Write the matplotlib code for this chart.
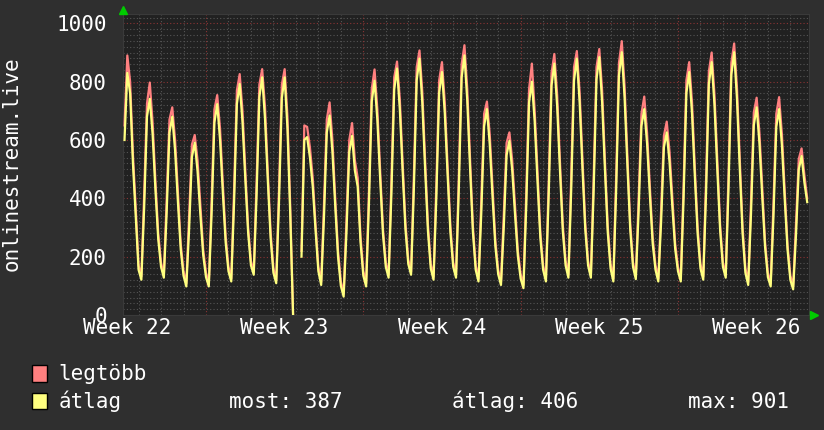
import numpy as np
import matplotlib
matplotlib.use("Agg")
import matplotlib.pyplot as plt
from matplotlib.patches import Rectangle

nan = float("nan")

# one row per day (day -1 .. 29), samples every 3 hours (00, 03, ..., 21)
days = list(range(-1, 30))
hours = [0, 3, 6, 9, 12, 15, 18, 21]

avg_rows = [
    [nan, nan, nan, 600, 830, 760, 520, 340],
    [155, 121, 370, 680, 741, 620, 430, 260],
    [165, 128, 350, 625, 680, 564, 389, 226],
    [135, 98, 295, 542, 591, 492, 344, 206],
    [130, 98, 348, 660, 723, 601, 419, 249],
    [150, 115, 386, 724, 792, 661, 465, 282],
    [170, 138, 409, 747, 815, 674, 462, 264],
    [145, 109, 391, 744, 815, 640, 340, 0],
    [nan, nan, 200, 600, 610, 540, 440, 290],
    [150, 103, 335, 626, 684, 560, 374, 200],
    [100, 63, 283, 559, 614, 495, 440, 250],
    [135, 98, 380, 732, 803, 668, 465, 277],
    [165, 128, 415, 773, 845, 704, 492, 294],
    [175, 138, 434, 805, 879, 727, 500, 288],
    [160, 121, 406, 762, 833, 692, 481, 283],
    [165, 128, 433, 814, 890, 735, 503, 286],
    [155, 115, 351, 647, 706, 585, 405, 236],
    [140, 103, 301, 548, 597, 496, 345, 203],
    [125, 92, 375, 729, 800, 663, 458, 266],
    [155, 115, 414, 787, 862, 715, 495, 289],
    [170, 128, 428, 804, 879, 729, 504, 293],
    [170, 128, 430, 808, 884, 730, 500, 284],
    [160, 115, 429, 822, 901, 745, 512, 294],
    [165, 123, 356, 648, 706, 588, 411, 245],
    [155, 115, 319, 575, 626, 524, 371, 227],
    [150, 115, 402, 761, 833, 691, 477, 278],
    [160, 121, 419, 792, 867, 719, 498, 291],
    [165, 128, 437, 824, 901, 741, 502, 279],
    [145, 103, 347, 651, 712, 589, 405, 233],
    [130, 98, 341, 645, 706, 582, 397, 224],
    [120, 88, 271, 499, 545, 454, 387, nan],
]

max_rows = [
    [nan, nan, nan, 650, 890, 800, 550, 365],
    [170, 132, 415, 725, 797, 660, 460, 280],
    [180, 138, 395, 670, 712, 600, 420, 245],
    [150, 108, 340, 585, 617, 530, 375, 225],
    [145, 108, 390, 705, 754, 640, 450, 270],
    [165, 125, 430, 770, 826, 700, 495, 300],
    [185, 148, 455, 790, 843, 715, 490, 285],
    [160, 119, 435, 790, 843, 680, 370, 0],
    [nan, nan, 220, 650, 645, 575, 470, 310],
    [165, 113, 380, 670, 729, 600, 400, 220],
    [115, 73, 325, 600, 658, 530, 470, 270],
    [150, 108, 425, 775, 842, 705, 495, 295],
    [180, 138, 460, 815, 869, 740, 520, 315],
    [190, 148, 480, 850, 907, 765, 530, 310],
    [175, 131, 450, 805, 867, 730, 510, 305],
    [180, 138, 480, 860, 925, 775, 535, 305],
    [170, 125, 395, 690, 732, 620, 435, 255],
    [155, 113, 345, 590, 626, 530, 375, 220],
    [140, 102, 420, 775, 862, 700, 490, 285],
    [170, 125, 460, 830, 895, 755, 525, 310],
    [185, 138, 475, 850, 905, 765, 535, 315],
    [185, 138, 475, 850, 912, 770, 530, 305],
    [175, 125, 475, 865, 939, 785, 545, 315],
    [180, 133, 400, 690, 749, 625, 440, 265],
    [170, 125, 360, 615, 663, 560, 400, 245],
    [165, 125, 445, 805, 867, 730, 505, 300],
    [175, 131, 465, 835, 900, 755, 530, 310],
    [180, 138, 485, 865, 931, 780, 535, 300],
    [160, 113, 390, 695, 745, 625, 435, 250],
    [145, 108, 385, 690, 747, 620, 425, 240],
    [135, 98, 310, 535, 571, 480, 400, nan],
]

week_starts = [-4, 3, 10, 17, 24]
week_labels = ["Week 22", "Week 23", "Week 24", "Week 25", "Week 26"]
y_ticks = [0, 200, 400, 600, 800, 1000]

legend_names = ["legtöbb", "átlag"]
stats_text = ["most: 387", "átlag: 406", "max: 901"]

BG = "#2f2f2f"
PLOT_BG = "#212121"
RED = "#ff8080"
YELLOW = "#ffff80"
FONT = "DejaVu Sans Mono"
FS = 15

t = np.array([d + h / 24 for d in days for h in hours])
avg = np.array(avg_rows, dtype=float).ravel()
mx = np.array(max_rows, dtype=float).ravel()

fig = plt.figure(figsize=(8.24, 4.30), dpi=100, facecolor=BG)
ax = fig.add_axes([123.5 / 824, 115 / 430, 685.5 / 824, 301 / 430])
ax.set_facecolor(PLOT_BG)
ax.set_xlim(-0.67, 29.83)
ax.set_ylim(0, 1032)

# grid, rrdtool style: minor gray dots, major dark red dots
for v in range(20, 1032, 20):
    if v % 200:
        ax.axhline(v, color="#555555", lw=0.8, ls=(0, (1, 2)), zorder=1)
for v in y_ticks[1:]:
    ax.axhline(v, color="#8a3434", lw=0.8, ls=(0, (1, 2)), zorder=1)
for d in range(0, 30):
    major = (d - 3) % 7 == 0
    ax.axvline(d, color="#8a3434" if major else "#555555", lw=0.8,
               ls=(0, (1, 2)), zorder=1)

ax.plot(t, mx, color=RED, lw=1.6, zorder=3)
ax.plot(t, avg, color=YELLOW, lw=1.6, zorder=4)

for s in ax.spines.values():
    s.set_color("#3a3a3a")

ax.set_yticks(y_ticks)
ax.set_yticklabels([str(v) for v in y_ticks])
ax.set_xticks([w + 3.5 for w in week_starts])
ax.set_xticklabels(week_labels)
ax.tick_params(axis="y", length=0, pad=12, colors="white", labelsize=FS)
ax.tick_params(axis="x", length=0, pad=2, colors="white", labelsize=FS)
for lab in ax.get_xticklabels() + ax.get_yticklabels():
    lab.set_fontfamily(FONT)

# axis arrows
ax.plot([-0.67], [1046], marker="^", color="#00cc00", ms=6, clip_on=False,
        zorder=5)
ax.plot([30.06], [0], marker=">", color="#00cc00", ms=6, clip_on=False,
        zorder=5)

fig.text(12 / 824, 1 - 164 / 430, "onlinestream.live", rotation=90,
         ha="center", va="center", color="white", fontsize=FS, family=FONT)

# legend
box_y = [381.7, 409.3]
base_y = [380, 408.3]
for name, col, by, ty in zip(legend_names, [RED, YELLOW], box_y, base_y):
    fig.patches.append(Rectangle((31.7 / 824, 1 - by / 430), 15.6 / 824,
                                 16.4 / 430, transform=fig.transFigure,
                                 facecolor=col, edgecolor="black", lw=1))
    fig.text(58.3 / 824, 1 - ty / 430, name, ha="left", va="baseline",
             color="white", fontsize=FS, family=FONT)

for txt, xs in zip(stats_text, [229, 452, 688]):
    fig.text(xs / 824, 1 - 408.3 / 430, txt, ha="left", va="baseline",
             color="white", fontsize=FS, family=FONT)

fig.savefig("out.png", dpi=100, facecolor=BG)
